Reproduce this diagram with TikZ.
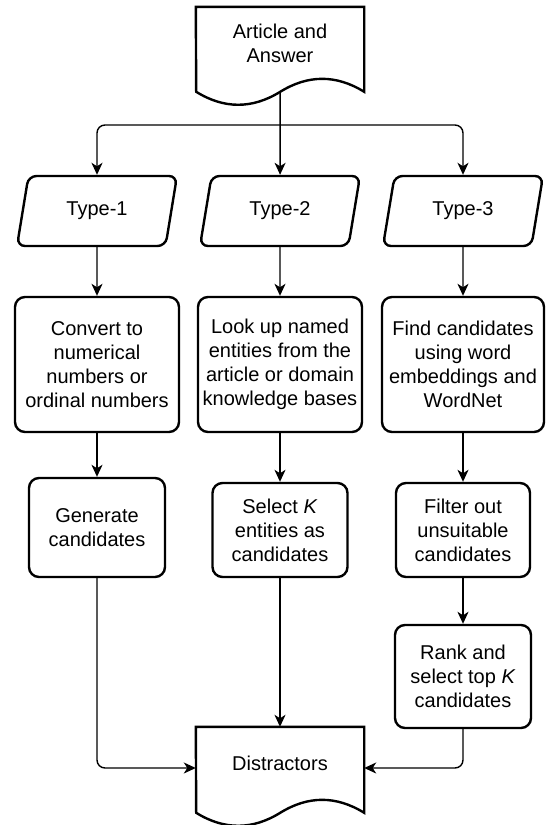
\documentclass[tikz,border=0pt]{standalone}
\usepackage{fontspec}
\setmainfont{Liberation Sans}
\usetikzlibrary{arrows.meta,shapes.geometric}

\tikzset{
  box/.style={draw, line width=2.4pt, rounded corners=10pt, align=center, inner sep=2pt},
  datain/.style={draw, line width=2.4pt, trapezium, trapezium left angle=65,
    trapezium right angle=115, trapezium stretches body, rounded corners=8pt,
    minimum width=160pt, minimum height=70pt, align=center},
  doc/.style={minimum width=168pt, minimum height=72pt, inner sep=0pt, align=center},
  docline/.style={line width=2.4pt, line join=miter},
  arr/.style={-{Stealth[length=12pt,width=11pt,inset=3.5pt]}, line width=1.4pt, rounded corners=8pt},
}

\begin{document}
\begin{tikzpicture}[x=1pt, y=-1pt, every node/.style={font=\fontsize{20}{24}\selectfont}]
    \useasboundingbox (0,0) rectangle (546,825);

    %Input document
    \node[doc] (src) at (280,43) {Article and\\Answer};
    \draw[docline] (src.north west) -- (src.north east) -- ++(0,85)
        .. controls +(-28,-17.3) and +(28,-17.3) .. ++(-84,0) coordinate (srcbot)
        .. controls +(-28,17.3) and +(28,17.3) .. ++(-84,0) -- cycle;

    %Answer types
    \node[datain] (t1) at (97,211) {Type-1};
    \node[datain] (t2) at (280,211) {Type-2};
    \node[datain] (t3) at (463,211) {Type-3};

    %Candidate generation
    \node[box, minimum width=164pt, minimum height=135pt] (c1) at (97,364.5) {Convert to\\numerical\\numbers or\\ordinal numbers};
    \node[box, minimum width=164pt, minimum height=135pt] (c2) at (280,364.5) {Look up named\\entities from the\\article or domain\\knowledge bases};
    \node[box, minimum width=162pt, minimum height=135pt] (c3) at (463,364.5) {Find candidates\\using word\\embeddings and\\WordNet};

    \node[box, minimum width=136pt, minimum height=99pt] (g1) at (97,527.5) {Generate\\candidates};
    \node[box, minimum width=135pt, minimum height=94pt] (s2) at (280,530) {Select \textit{K}\\entities as\\candidates};
    \node[box, minimum width=134pt, minimum height=94pt] (f3) at (463,530) {Filter out\\unsuitable\\candidates};
    \node[box, minimum width=136pt, minimum height=103pt] (r3) at (463,676.5) {Rank and\\select top \textit{K}\\candidates};

    %Output document
    \node[doc] (dst) at (280,763) {Distractors};
    \draw[docline] (dst.north west) -- (dst.north east) -- ++(0,86)
        .. controls +(-28,-17.3) and +(28,-17.3) .. ++(-84,0)
        .. controls +(-28,17.3) and +(28,17.3) .. ++(-84,0) -- cycle;

    %Connectors
    \coordinate (split) at (280,125);
    \draw[arr] (srcbot) -- (t2);
    \draw[arr] (split) -| (t1);
    \draw[arr] (split) -| (t3);

    \draw[arr] (t1) -- (c1);
    \draw[arr] (t2) -- (c2);
    \draw[arr] (t3) -- (c3);

    \draw[arr] (c1) -- (g1);
    \draw[arr] (c2) -- (s2);
    \draw[arr] (c3) -- (f3);
    \draw[arr] (f3) -- (r3);

    \draw[arr] (g1) |- ([yshift=-5pt]dst.west);
    \draw[arr] (s2) -- (dst);
    \draw[arr] (r3) |- ([yshift=-5pt]dst.east);

\end{tikzpicture}
\end{document}
